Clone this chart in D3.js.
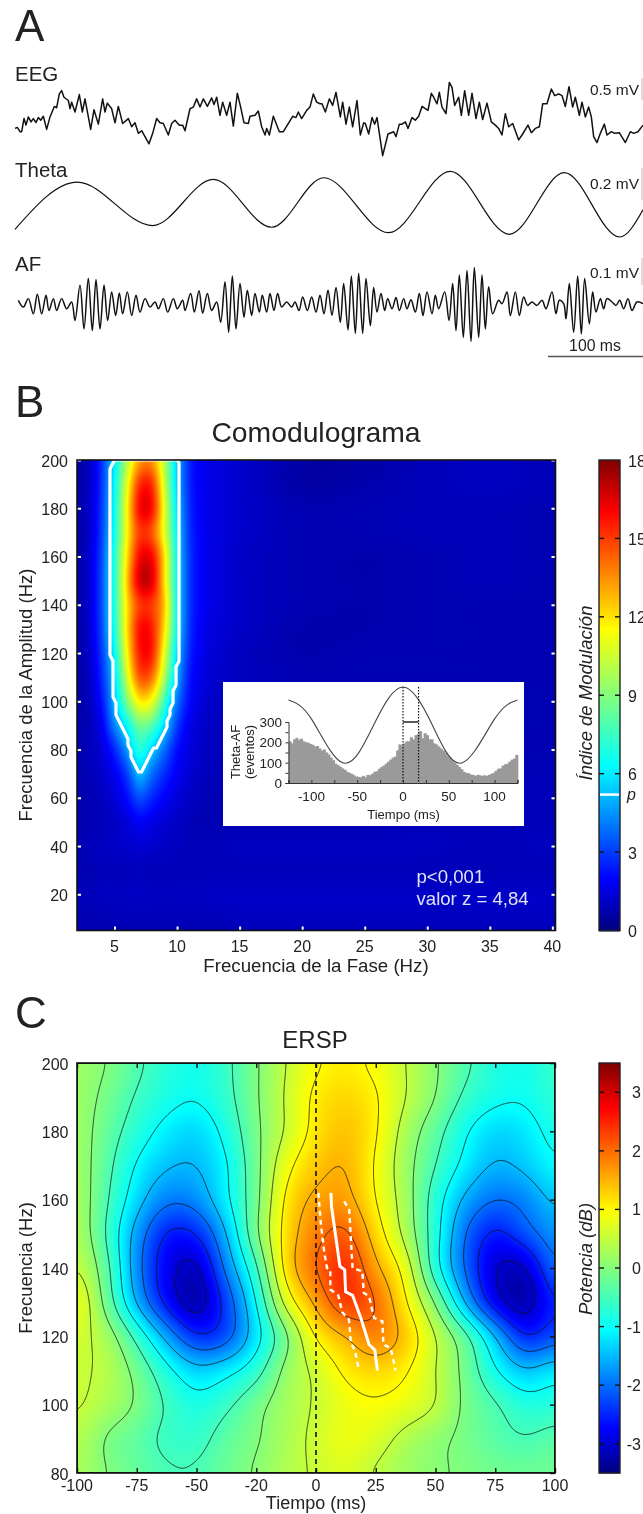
<!DOCTYPE html>
<html>
<head>
<meta charset="utf-8">
<script src="https://cdnjs.cloudflare.com/ajax/libs/d3/7.8.5/d3.min.js"></script>
<style>
body { margin: 0; background: #fff; }
#wrap { position: relative; width: 643px; height: 1514px; overflow: hidden; }
canvas, svg { position: absolute; left: 0; top: 0; }
text { font-family: "Liberation Sans", Arial, sans-serif; fill: #222; }
</style>
</head>
<body>
<div id="wrap"></div>
<script>
// traces, digitised as [sample, amplitude]: 285 samples = 100 ms, *Span amplitude units = scale bar
const eegSamples = [[0,-50],[7,-47],[15,-60],[20,-60],[27,-20],[33,-40],[40,-15],[48,-30],[55,-20],[63,-32],[70,-17],[77,-25],[85,-13],[95,-53],[105,-15],[118,17],[125,13],[133,55],[140,65],[147,45],[160,35],[165,10],[170,30],[180,0],[193,53],[202,0],[210,40],[227,-53],[237,7],[250,-37],[263,40],[270,0],[277,27],[290,10],[300,-33],[310,17],[323,-35],[340,-20],[350,-45],[360,-33],[370,-65],[380,-57],[402,-97],[413,-65],[425,-20],[435,-33],[445,-35],[460,-70],[470,-35],[480,-25],[493,-40],[503,-40],[510,-57],[525,10],[535,15],[545,40],[555,15],[565,40],[577,17],[590,43],[597,23],[605,45],[615,-10],[623,30],[635,-10],[645,30],[655,-43],[667,57],[677,15],[687,-33],[700,-35],[705,-13],[720,-10],[730,3],[740,-45],[750,-70],[755,-50],[763,-70],[775,-13],[793,-60],[805,-60],[817,-40],[833,-13],[843,-17],[850,0],[860,-20],[875,5],[885,15],[895,55],[905,30],[915,25],[921,25],[931,0],[943,40],[953,20],[963,60],[976,-15],[983,30],[993,-37],[1003,15],[1013,-45],[1026,35],[1036,-70],[1046,-33],[1051,-35],[1061,-67],[1071,-17],[1079,-37],[1086,-17],[1103,-133],[1119,-67],[1136,-60],[1143,-75],[1153,-37],[1161,-37],[1171,-30],[1179,-50],[1191,-17],[1201,-25],[1211,-13],[1221,17],[1231,10],[1239,5],[1249,57],[1256,45],[1266,25],[1273,60],[1281,15],[1293,-5],[1303,90],[1311,75],[1319,20],[1331,45],[1339,-10],[1349,65],[1361,-10],[1371,57],[1383,-20],[1393,30],[1403,-23],[1416,27],[1429,-30],[1441,-40],[1451,-50],[1461,-70],[1471,-5],[1481,-45],[1493,-35],[1511,-85],[1521,-70],[1539,-40],[1549,-63],[1561,-50],[1573,-45],[1583,25],[1596,25],[1609,70],[1619,50],[1631,55],[1641,50],[1651,17],[1662,77],[1673,15],[1681,45],[1693,-10],[1701,30],[1711,-15],[1721,15],[1729,-15],[1736,-75],[1746,-93],[1756,-65],[1768,-37],[1776,-70],[1789,-60],[1799,-65],[1813,-63],[1831,-93],[1846,-60],[1856,-65],[1869,-60],[1884,-40]]
const eegSpan = 67

const thetaSamples = [[0,-78],[187,62],[413,-67],[595,70],[770,-72],[926,75],[1121,-88],[1306,94],[1483,-93],[1648,90],[1814,-101],[1884,-20]]
const thetaSpan = 95

const afSamples = [[10,5],[25,-15],[40,10],[55,-35],[67,23],[80,-35],[93,20],[102,-25],[115,10],[125,-25],[140,10],[155,-20],[170,0],[180,-55],[195,50],[207,-80],[220,70],[232,-85],[243,67],[255,-80],[267,50],[278,-55],[290,30],[302,-40],[313,27],[323,-35],[337,30],[350,-40],[363,20],[375,-30],[390,10],[405,-15],[420,0],[430,-20],[445,10],[458,-30],[475,10],[487,-20],[503,5],[510,-25],[527,25],[538,-30],[552,33],[563,-33],[577,25],[590,-25],[605,0],[617,-60],[630,60],[641,-90],[652,77],[663,-80],[675,55],[687,-45],[697,35],[710,-40],[720,25],[733,-30],[742,20],[755,-30],[765,25],[777,-25],[788,25],[800,-15],[815,0],[830,-15],[840,0],[852,-25],[863,15],[877,-25],[890,15],[903,-30],[915,20],[927,-35],[939,35],[951,-40],[963,43],[976,-60],[986,55],[999,-83],[1009,77],[1021,-93],[1031,85],[1043,-93],[1053,70],[1066,-70],[1076,43],[1086,-30],[1098,25],[1109,-25],[1118,10],[1131,-20],[1143,13],[1153,-25],[1166,10],[1176,-20],[1188,7],[1201,-30],[1213,25],[1224,-40],[1236,30],[1251,-35],[1261,20],[1271,-20],[1289,30],[1302,-55],[1313,55],[1323,-85],[1333,80],[1345,-105],[1356,93],[1368,-117],[1378,102],[1391,-105],[1401,80],[1411,-80],[1421,45],[1433,-35],[1451,5],[1461,-5],[1476,30],[1486,-40],[1501,30],[1513,-40],[1526,15],[1538,-10],[1551,0],[1566,-10],[1581,5],[1593,-20],[1611,30],[1623,-35],[1633,5],[1646,-5],[1653,-50],[1663,55],[1676,-90],[1688,77],[1699,-95],[1709,70],[1723,-65],[1733,30],[1743,-30],[1756,10],[1766,-20],[1776,10],[1791,0],[1803,-10],[1814,5],[1826,-20],[1839,10],[1851,-25],[1866,0],[1884,-5]]
const afSpan = 80

const traceNames = ['EEG', 'Theta', 'AF']
const barLabels = ['0.5 mV', '0.2 mV', '0.1 mV']

// comodulogram: modulation index on phase freq (columns) x amp freq (rows)
const phaseFreq = [2,3,4,5,6,7,8,9,10,11,12,13,15,20,25,30,35,40]
const ampFreq = [200,190,180,170,160,150,140,130,120,110,100,90,80,70,60,50,40,30,20,10,5]
const modIndex = [
  [.6,1.1,2.8,6.0,10.0,13.2,13.4,10.0,5.3,2.6,1.8,1.5,1.2,.6,.6,.9,1.0,.9],
  [.6,1.1,2.9,6.3,11.0,15.2,15.2,10.5,5.4,2.6,1.8,1.5,1.2,.6,.7,.9,1.0,.9],
  [.6,1.2,3.0,6.5,11.5,16.0,15.8,11.0,5.7,2.7,1.8,1.5,1.2,.8,.8,.9,.9,.8],
  [.6,1.2,3.1,6.6,11.5,15.0,14.5,11.0,6.0,2.8,1.9,1.5,1.2,.8,.8,.9,.9,.8],
  [.6,1.3,3.3,7.0,12.0,16.0,16.0,12.0,6.2,2.9,1.9,1.5,1.1,.8,.7,.8,.9,.8],
  [.6,1.3,3.4,7.0,12.5,16.6,16.5,12.0,6.3,2.9,1.9,1.5,1.1,.8,.7,.8,.9,.8],
  [.6,1.3,3.4,7.0,12.0,15.0,15.0,12.5,6.3,2.9,1.9,1.5,1.1,.8,.7,.8,.8,.8],
  [.6,1.3,3.3,6.8,12.0,15.8,15.5,12.0,6.2,2.8,1.8,1.4,1.1,.7,.7,.8,.8,.8],
  [.6,1.2,3.0,6.3,11.5,15.6,15.5,11.0,5.6,2.6,1.7,1.3,1.0,.7,.8,.8,.8,.8],
  [.6,1.1,2.7,5.7,10.5,14.5,14.0,9.8,5.0,2.3,1.6,1.2,1.0,.8,.8,.8,.8,.8],
  [.6,1.0,2.3,5.2,8.8,11.8,11.2,7.5,4.0,2.1,1.4,1.1,.9,.8,.7,.7,.8,.8],
  [.7,.9,1.8,4.2,6.3,8.6,8.0,5.6,3.0,1.7,1.2,1.0,.9,.8,.7,.7,.8,.8],
  [.7,.9,1.4,2.6,4.6,7.0,5.5,3.8,2.2,1.5,1.1,1.0,.9,.8,.8,.8,.8,.8],
  [.7,.9,1.2,1.8,3.0,5.2,3.8,2.7,1.8,1.3,1.0,.9,.8,.8,.8,.8,.8,.9],
  [.7,.8,1.0,1.4,2.1,3.3,2.6,1.9,1.4,1.1,.9,.8,.8,.8,.8,.8,.9,.9],
  [.7,.8,.9,1.1,1.4,1.9,1.6,1.3,1.1,.9,.8,.8,.8,.8,.8,.9,.9,.9],
  [.8,.9,1.0,1.1,1.2,1.3,1.2,1.1,1.0,.9,.9,.9,1.0,1.0,1.0,1.0,.9,1.0],
  [.8,.8,.9,.9,.9,1.0,.9,.9,.9,.9,.9,.9,.9,.9,.9,.9,.9,.9],
  [.9,.9,1.0,1.0,1.0,1.1,1.0,1.0,1.0,1.0,1.0,1.1,1.1,1.1,1.1,1.1,1.1,1.1],
  [.8,.8,.8,.9,.9,.9,.9,.9,.9,.9,.9,.9,1.0,1.0,1.0,1.0,1.0,1.0],
  [.8,.8,.8,.8,.8,.8,.8,.8,.8,.8,.8,.8,.9,.9,.9,.9,.9,.9]
]
const pLevel = 5.2
const phaseTicks = [5,10,15,20,25,30,35,40]
const ampTicks = [20,40,60,80,100,120,140,160,180,200]
const modTicks = [0,3,6,9,12,15,18]

// inset: theta-AF events per 2.5 ms bin
const histT = d3.range(100).map(i => -125 + 2.5 * i)
const histCounts = [205,195,215,222,212,218,205,200,198,192,188,180,182,170,160,165,150,140,125,112,95,88,80,72,65,55,50,45,38,32,30,28,35,28,40,38,45,55,58,70,78,85,95,105,115,125,130,160,190,185,195,205,205,225,215,235,240,255,220,245,235,215,215,195,190,180,170,160,150,135,125,112,100,90,78,68,55,50,48,42,40,35,40,38,35,38,35,40,45,50,60,70,72,85,92,95,105,115,120,138]
const insetThetaT = [-125,-100,-65,-32,0,32,64,100,125]
const insetThetaV = [.83,.58,0,.5,1,.5,0,.58,.83]
const insetXTicks = [-100,-50,0,50,100]
const insetYTicks = [0,100,200,300]

// ERSP in dB, time (columns) x frequency (rows)
const erspT = [-100,-87.5,-75,-62.5,-50,-37.5,-25,-12.5,0,12.5,25,37.5,50,62.5,75,87.5,100]
const erspF = [200,190,180,170,160,150,140,130,120,110,100,90,80]
const erspDb = [
  [.2,0,-.4,-.75,-.9,-.6,-.05,.5,.95,1.08,.9,.5,.05,-.4,-.8,-.9,-.6],
  [.2,-.12,-.55,-.85,-.97,-.65,-.05,.55,1.1,1.25,1.05,.5,0,-.6,-.9,-.95,-.7],
  [.22,-.25,-.75,-1.15,-1.3,-.85,-.1,.55,1.15,1.4,1.05,.3,-.3,-.95,-1.3,-1.2,-.85],
  [.25,-.35,-1.05,-1.45,-1.5,-1.05,-.15,.85,1.35,1.5,.95,.2,-.5,-1.15,-1.55,-1.4,-1.05],
  [.3,-.45,-1.3,-1.9,-1.8,-1.1,-.15,1.1,1.6,1.65,1,.25,-.75,-1.6,-2,-1.85,-1.4],
  [.35,-.55,-1.7,-2.55,-2.5,-1.5,-.1,1.2,1.85,2.1,1.25,.35,-.8,-2,-2.6,-2.2,-1.75],
  [.55,-.35,-1.8,-2.8,-3.1,-1.85,-.6,1.2,2,2.45,1.6,.8,-.8,-2.05,-3,-3.05,-2],
  [.9,-.2,-1.55,-2.65,-3.25,-2.3,-1,.7,1.6,2.35,2,1.05,-.05,-1.55,-2.8,-3.25,-2.45],
  [.65,.25,-.65,-1.65,-2.45,-2.2,-1.2,-.1,1.05,1.5,1.85,1.35,.5,-.35,-1.5,-2.5,-2.2],
  [.55,.4,-.15,-.85,-1.35,-1.15,-.7,.15,.6,1.1,1.25,1.05,.5,-.15,-.95,-1.45,-1.2],
  [.55,.3,-.05,-.55,-.85,-.6,-.15,.25,.55,.85,.95,.8,.5,-.1,-.45,-.8,-.75],
  [.4,-.05,-.3,-.6,-.65,-.3,-.05,.3,.6,.85,.7,.35,.1,-.1,-.35,-.48,-.35],
  [.3,0,-.25,-.45,-.45,-.2,.05,.35,.55,.7,.45,.2,.05,-.05,-.15,-.2,-.15]
]
const erspLevels = [-3,-2.5,-2,-1.5,-1,-.5,0,.5,1,1.5,2]
const timeTicks = [-100,-75,-50,-25,0,25,50,75,100]
const timeLabels = ['-100','-75','-50','-20','0','25','50','75','100']
const freqTicks = [80,100,120,140,160,180,200]
const dbTicks = [-3,-2,-1,0,1,2,3]

// white ridge with its dashed limits: time, frequency
const ridgeT = [6.25,6.5,10,12,12.4,15.3,18.75,22.2,24.6,25.7]
const ridgeF = [162,158,140.5,139.5,133,132,125.4,117.6,116,110]
const lowT = [1,2,3.5,4.6,6,6,9.3,11,13.75,14.6,16.25,18]
const lowF = [162,153,144.4,140,139.5,133.7,132,127,125,118,116,110]
const highT = [11.8,13.9,15.3,19.4,20,22.2,24.3,27.8,28.2,31.25,33.3]
const highF = [159.5,157,140,139,132.7,131.7,125.4,124.4,117.6,116.6,110]

const width = 643, height = 1514
const wrap = d3.select('#wrap')
const canvas = wrap.append('canvas').attr('width', width).attr('height', height)
const ctx = canvas.node().getContext('2d')
ctx.fillStyle = '#fff'
ctx.fillRect(0, 0, width, height)
const svg = wrap.append('svg').attr('width', width).attr('height', height)

const jet = d3.scaleLinear()
  .domain([0, .11, .35, .64, .89, 1])
  .range(['#00007f', '#0000ff', '#00ffff', '#ffff00', '#ff0000', '#7f0000'])
  .clamp(true)

const addText = (x, y, str, size, opts = {}) => {
  const t = svg.append('text').attr('x', x).attr('y', y).attr('font-size', size).text(str)
  if (opts.anchor) t.attr('text-anchor', opts.anchor)
  if (opts.italic) t.attr('font-style', 'italic')
  if (opts.fill) t.style('fill', opts.fill)
  if (opts.rotate) t.attr('transform', `rotate(-90, ${x}, ${y})`)
  return t
}

// ---- panel A
addText(15, 41, 'A', 44)
const timeX = d3.scaleLinear().domain([0, 1884]).range([15, 643])
const traces = [
  {samples: eegSamples, span: eegSpan, base: 112, barPx: 22, barTop: 78, labelY: 95, nameY: 81},
  {samples: thetaSamples, span: thetaSpan, base: 203, barPx: 32, barTop: 168, labelY: 189, nameY: 177},
  {samples: afSamples, span: afSpan, base: 302, barPx: 27, barTop: 258, labelY: 278, nameY: 271}
]
traces.forEach((tr, k) => {
  const y = d3.scaleLinear().domain([0, tr.span]).range([tr.base, tr.base - tr.barPx])
  const curve = k === 1 ? d3.curveMonotoneX : (k === 2 ? d3.curveCatmullRom : d3.curveLinear)
  const line = d3.line().x(d => timeX(d[0])).y(d => y(d[1])).curve(curve)
  svg.append('path')
    .attr('d', line(tr.samples))
    .attr('fill', 'none')
    .attr('stroke', '#111')
    .attr('stroke-width', k === 1 ? 1.2 : 1.5)
    .attr('stroke-linejoin', 'round')
  addText(15, tr.nameY, traceNames[k], 20.5)
  addText(639, tr.labelY, barLabels[k], 15.5, {anchor: 'end'})
  svg.append('line')
    .attr('x1', 642).attr('x2', 642)
    .attr('y1', tr.barTop).attr('y2', tr.barTop + tr.barPx)
    .attr('stroke', '#bbb').attr('stroke-width', 1)
})
addText(595, 351, '100 ms', 15.8, {anchor: 'middle'})
svg.append('line')
  .attr('x1', timeX(1884 - 285)).attr('x2', timeX(1884))
  .attr('y1', 356.5).attr('y2', 356.5)
  .attr('stroke', '#555').attr('stroke-width', 1.6)

// catmull-rom sampler over a read grid
const catmull = (p0, p1, p2, p3, s) =>
  .5 * (2 * p1 + (p2 - p0) * s + (2 * p0 - 5 * p1 + 4 * p2 - p3) * s * s + (3 * p1 - p0 - 3 * p2 + p3) * s * s * s)

const makeSampler = (cols, rows, grid) => {
  const ci = d3.scaleLinear().domain(cols).range(d3.range(cols.length)).clamp(true)
  const ri = d3.scaleLinear().domain(rows).range(d3.range(rows.length)).clamp(true)
  const at = (r, c) => grid[Math.max(0, Math.min(rows.length - 1, r))][Math.max(0, Math.min(cols.length - 1, c))]
  return (x, y) => {
    const fx = ci(x), fy = ri(y)
    const c = Math.min(Math.floor(fx), cols.length - 2), r = Math.min(Math.floor(fy), rows.length - 2)
    const tmp = [-1, 0, 1, 2].map(dr =>
      catmull(at(r + dr, c - 1), at(r + dr, c), at(r + dr, c + 1), at(r + dr, c + 2), fx - c))
    return catmull(tmp[0], tmp[1], tmp[2], tmp[3], fy - r)
  }
}

// paints the field and returns the fine values for d3.contours
const paintField = (sampler, x, y, lo, hi, blur) => {
  const [x0, x1] = x.range(), [y0, y1] = y.range().slice().sort(d3.ascending)
  const w = Math.round(x1 - x0), h = Math.round(y1 - y0)
  const img = ctx.createImageData(w, h)
  const norm = d3.scaleLinear().domain([lo, hi]).range([0, 1]).clamp(true)
  const lut = d3.range(1024).map(i => d3.rgb(jet(i / 1023)))
  const values = new Float64Array(w * h)
  for (let j = 0; j < h; j++) {
    for (let i = 0; i < w; i++) {
      values[j * w + i] = sampler(x.invert(x0 + i + .5), y.invert(y0 + j + .5))
    }
  }
  d3.blur2({data: values, width: w, height: h}, blur)
  values.forEach((v, n) => {
    const c = lut[Math.round(norm(v) * 1023)]
    img.data[n * 4] = c.r; img.data[n * 4 + 1] = c.g; img.data[n * 4 + 2] = c.b; img.data[n * 4 + 3] = 255
  })
  ctx.putImageData(img, x0, y0)
  return {w, h, values, x0, y0}
}

const contourPath = (f, sx = 1, sy = 1) => d3.geoPath(d3.geoTransform({
  point(px, py) { this.stream.point(px * sx + f.x0, py * sy + f.y0) }
}))

const frameAxes = (g, x, y, xTicks, yTicks, tickColor, tickLen, sides, tickWidth) => {
  const [x0, x1] = x.range(), [y1, y0] = y.range()
  const make = {
    bottom: [d3.axisBottom(x).tickValues(xTicks), `translate(0,${y1})`],
    top: [d3.axisTop(x).tickValues(xTicks), `translate(0,${y0})`],
    left: [d3.axisLeft(y).tickValues(yTicks), `translate(${x0},0)`],
    right: [d3.axisRight(y).tickValues(yTicks), `translate(${x1},0)`]
  }
  sides.forEach(side => {
    const [axis, tr] = make[side]
    const a = g.append('g').attr('transform', tr)
      .call(axis.tickSize(-tickLen).tickFormat(''))
    a.select('.domain').remove()
    a.selectAll('line').attr('stroke', tickColor).attr('stroke-width', tickWidth)
    a.selectAll('text').remove()
  })
  g.append('rect').attr('x', x0).attr('y', y0)
    .attr('width', x1 - x0).attr('height', y1 - y0)
    .attr('fill', 'none').attr('stroke', '#111').attr('stroke-width', 1.6)
}

const colorBar = (g, scale, color, ticks) => {
  const [yb, yt] = scale.range()
  const x0 = 599, x1 = 620
  const stops = d3.range(Math.round(yb - yt))
  g.selectAll('rect.cb').data(stops).join('rect').attr('class', 'cb')
    .attr('x', x0).attr('width', x1 - x0)
    .attr('y', d => yt + d).attr('height', 1.5)
    .attr('fill', d => color(scale.invert(yt + d + .5)))
  g.selectAll('line.l').data(ticks).join('line').attr('class', 'l')
    .attr('x1', x0).attr('x2', x0 + 5).attr('y1', scale).attr('y2', scale)
    .attr('stroke', '#111').attr('stroke-width', 1.4)
  g.selectAll('line.r').data(ticks).join('line').attr('class', 'r')
    .attr('x1', x1 - 5).attr('x2', x1).attr('y1', scale).attr('y2', scale)
    .attr('stroke', '#111').attr('stroke-width', 1.4)
  g.append('rect').attr('x', x0).attr('y', yt)
    .attr('width', x1 - x0).attr('height', yb - yt)
    .attr('fill', 'none').attr('stroke', '#222').attr('stroke-width', 1.4)
}

// ---- panel B
addText(15, 417, 'B', 44)
addText(316, 442, 'Comodulograma', 28.3, {anchor: 'middle'})
const phaseX = d3.scaleLinear().domain([2, 40.25]).range([77, 555.5])
const ampY = d3.scaleLinear().domain([5, 200]).range([930.5, 460])
const modJet = d3.scaleLinear().domain([0, 18]).range([0, 1])
const fieldB = paintField(makeSampler(phaseFreq, ampFreq, modIndex), phaseX, ampY, 0, 18, 2)

const panelB = svg.append('g')
svg.append('clipPath').attr('id', 'clipB').append('rect')
  .attr('x', 77).attr('y', 460).attr('width', 478.5).attr('height', 470.5)

// p contour on a coarser grid, it is stepped in the figure
const stepX = 3, stepY = 6
const coarseW = Math.floor(fieldB.w / stepX), coarseH = Math.floor(fieldB.h / stepY)
const coarse = new Float64Array(coarseW * coarseH)
coarse.forEach((_, n) => {
  const i = n % coarseW, j = Math.floor(n / coarseW)
  coarse[n] = fieldB.values[(j * stepY + 3) * fieldB.w + i * stepX + 1]
})
panelB.append('path')
  .attr('d', contourPath(fieldB, stepX, stepY)(d3.contours().smooth(false).size([coarseW, coarseH]).thresholds([pLevel])(coarse)[0]))
  .attr('fill', 'none').attr('stroke', '#fff').attr('stroke-width', 3.2)
  .attr('stroke-linejoin', 'round')
  .attr('clip-path', 'url(#clipB)')
frameAxes(panelB, phaseX, ampY, phaseTicks, ampTicks, '#fff', 4, ['bottom', 'left', 'right'], 2)

phaseTicks.forEach(d => addText(phaseX(d), 952, d, 16, {anchor: 'middle'}))
ampTicks.forEach(d => addText(68, ampY(d) + 6.5, d, 16, {anchor: 'end'}))
addText(316, 972, 'Frecuencia de la Fase (Hz)', 18.7, {anchor: 'middle'})
addText(32, 695, 'Frecuencia de la Amplitud (Hz)', 18.5, {anchor: 'middle', rotate: true})
addText(416.5, 883, 'p<0,001', 18.6, {fill: '#dfe3f5'})
addText(416.5, 904.5, 'valor z = 4,84', 18.6, {fill: '#dfe3f5'})

const modY = d3.scaleLinear().domain([0, 18]).range([930.5, 460])
const barB = svg.append('g')
colorBar(barB, modY, v => jet(modJet(v)), modTicks.slice(1, -1))
barB.append('line').attr('x1', 600).attr('x2', 619)
  .attr('y1', modY(pLevel)).attr('y2', modY(pLevel))
  .attr('stroke', '#fff').attr('stroke-width', 2.5)
modTicks.forEach(d => addText(628, modY(d) + 6.5, d, 16))
addText(627, 800, 'p', 16, {italic: true})
addText(591.5, 693, 'Índice de Modulación', 18.5, {anchor: 'middle', italic: true, rotate: true})

// inset
const inset = svg.append('g')
inset.append('rect').attr('x', 223).attr('y', 682).attr('width', 301).attr('height', 144).attr('fill', '#fff')
const insetX = d3.scaleLinear().domain([-125, 125]).range([288.5, 517.5])
const insetY = d3.scaleLinear().domain([0, 300]).range([783, 722])
const insetWave = d3.scaleLinear().domain([0, 1]).range([763, 687])
inset.selectAll('rect.h').data(histT).join('rect').attr('class', 'h')
  .attr('x', d => insetX(d))
  .attr('width', insetX(2.5) - insetX(0) + .8)
  .attr('y', (d, i) => insetY(histCounts[i]))
  .attr('height', (d, i) => insetY(0) - insetY(histCounts[i]))
  .attr('fill', '#9a9a9a')
inset.append('path')
  .attr('d', d3.line().x(d => insetX(insetThetaT[d])).y(d => insetWave(insetThetaV[d])).curve(d3.curveNatural)(d3.range(insetThetaT.length)))
  .attr('fill', 'none').attr('stroke', '#444').attr('stroke-width', 1.1)
const insetAxisX = inset.append('g').attr('transform', 'translate(0,783)')
  .call(d3.axisBottom(insetX).tickValues(d3.range(-125, 126, 25)).tickSize(-3).tickFormat(''))
insetAxisX.selectAll('line').attr('stroke', '#333')
insetAxisX.select('.domain').attr('stroke', '#333')
const insetAxisY = inset.append('g').attr('transform', 'translate(288.5,0)')
  .call(d3.axisLeft(insetY).tickValues(d3.range(0, 301, 50)).tickSize(3).tickFormat(''))
insetAxisY.selectAll('line').attr('stroke', '#333')
insetAxisY.select('.domain').attr('stroke', '#333')
insetXTicks.forEach(d => addText(insetX(d), 801, d, 13.5, {anchor: 'middle'}))
insetYTicks.forEach(d => addText(282, insetY(d) + 5, d, 13.5, {anchor: 'end'}))
addText(insetX(0) + .5, 819, 'Tiempo (ms)', 13, {anchor: 'middle'})
addText(240, 752, 'Theta-AF', 13, {anchor: 'middle', rotate: true})
addText(254, 752, '(eventos)', 13, {anchor: 'middle', rotate: true})
;[0, 17].forEach(d => inset.append('line')
  .attr('x1', insetX(d)).attr('x2', insetX(d)).attr('y1', 687).attr('y2', 783)
  .attr('stroke', '#111').attr('stroke-width', 1.2).attr('stroke-dasharray', '1.5,1.5'))
inset.append('line').attr('x1', insetX(0)).attr('x2', insetX(17))
  .attr('y1', insetY(300)).attr('y2', insetY(300))
  .attr('stroke', '#222').attr('stroke-width', 1.5)

// ---- panel C
addText(15, 1028, 'C', 44)
addText(315, 1048, 'ERSP', 24, {anchor: 'middle'})
const erspX = d3.scaleLinear().domain([-100, 100]).range([77, 555])
const erspY = d3.scaleLinear().domain([80, 200]).range([1473, 1063])
const dbJet = d3.scaleLinear().domain([-3.5, 3.5]).range([0, 1])
const fieldC = paintField(makeSampler(erspT, erspF, erspDb), erspX, erspY, -3.5, 3.5, 7)

const panelC = svg.append('g')
svg.append('clipPath').attr('id', 'clipC').append('rect')
  .attr('x', 77).attr('y', 1063).attr('width', 478).attr('height', 410)
const contC = d3.contours().size([fieldC.w, fieldC.h]).thresholds(erspLevels)(fieldC.values)
panelC.append('g').attr('clip-path', 'url(#clipC)')
  .selectAll('path').data(contC).join('path')
  .attr('d', contourPath(fieldC))
  .attr('fill', 'none').attr('stroke', '#111').attr('stroke-opacity', .8).attr('stroke-width', 1)

const ridgeLine = (ts, fs) => d3.line().x((d, i) => erspX(ts[i])).y((d, i) => erspY(fs[i]))(ts)
panelC.append('path').attr('d', ridgeLine(ridgeT, ridgeF))
  .attr('fill', 'none').attr('stroke', '#fff').attr('stroke-width', 3)
;[[lowT, lowF], [highT, highF]].forEach(([a, b]) => panelC.append('path')
  .attr('d', ridgeLine(a, b))
  .attr('fill', 'none').attr('stroke', '#fff').attr('stroke-width', 2.4).attr('stroke-dasharray', '5,4'))
panelC.append('line').attr('x1', erspX(0)).attr('x2', erspX(0)).attr('y1', 1063).attr('y2', 1473)
  .attr('stroke', '#111').attr('stroke-width', 1.6).attr('stroke-dasharray', '5,4')
frameAxes(panelC, erspX, erspY, timeTicks, freqTicks, '#111', 5, ['bottom', 'top', 'right'], 1.4)

timeTicks.forEach((d, i) => addText(erspX(d), 1490.5, timeLabels[i], 16, {anchor: 'middle'}))
freqTicks.forEach(d => addText(68.5, erspY(d) + 6.5, d, 16, {anchor: 'end'}))
addText(316, 1509, 'Tiempo (ms)', 18, {anchor: 'middle'})
addText(32, 1268, 'Frecuencia (Hz)', 18.5, {anchor: 'middle', rotate: true})

const dbY = d3.scaleLinear().domain([-3.5, 3.5]).range([1473, 1063])
const barC = svg.append('g')
colorBar(barC, dbY, v => jet(dbJet(v)), dbTicks)
dbTicks.forEach(d => addText(641, dbY(d) + 6, d, 16, {anchor: 'end'}))
addText(591.5, 1259, 'Potencia (dB)', 18.5, {anchor: 'middle', italic: true, rotate: true})
</script>
</body>
</html>
